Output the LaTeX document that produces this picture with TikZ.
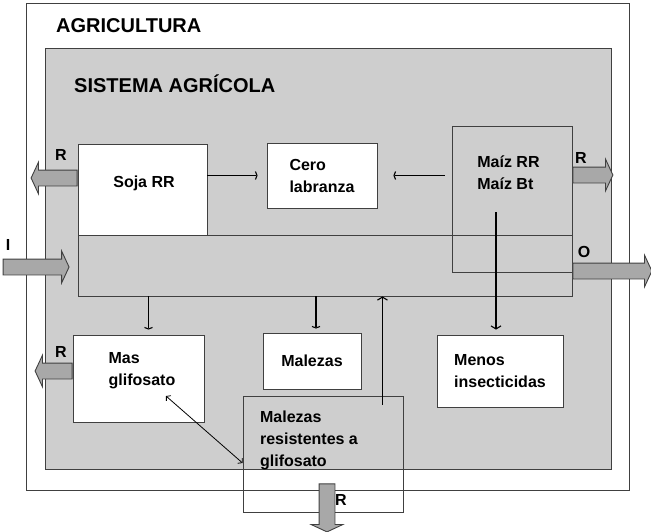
\documentclass[tikz,border=0pt]{standalone}
\usepackage{fontspec}
\setmainfont{Liberation Sans}
\usetikzlibrary{positioning}
\usetikzlibrary{calc}
\usetikzlibrary{shapes.arrows}
\usetikzlibrary{arrows.meta}
\definecolor{sysgray}{HTML}{CECECE}
\definecolor{arrowgray}{HTML}{A8A8A8}
\definecolor{edgegray}{HTML}{404040}

\begin{document}
\begin{tikzpicture}[x=1pt, y=-1pt, every node/.style={font=\fontsize{16}{22}\selectfont\bfseries},
  frame/.style={rectangle, draw=edgegray, line width=0.9pt, inner sep=0pt},
  whitebox/.style={frame, fill=white},
  title/.style={anchor=west, inner sep=0pt, font=\fontsize{20}{22}\selectfont\bfseries},
  fatarrow/.style={single arrow, draw=edgegray, fill=arrowgray, line width=0.9pt, inner sep=7.5pt, minimum width=0pt, single arrow head extend=8pt, single arrow tip angle=130},
  thin/.style={draw=black, line width=1.1pt},
  tee/.style={thin, -{Straight Barb[length=1.5pt,width=8pt]}},
  down/.style={thin, -{Straight Barb[length=3pt,width=10pt]}},
  twoway/.style={draw=black, line width=0.8pt, {Straight Barb[length=3pt,width=7pt]}-{Straight Barb[length=3pt,width=7pt]}}]

  \useasboundingbox (0,0) rectangle (651,531);

  \node[frame, minimum width=603pt, minimum height=487pt] (agri) at (327.5,246.5) {};
  \node[frame, fill=sysgray, minimum width=566pt, minimum height=421pt] (sys) at (328,258.5) {};
  \node[title] (agrititle) at (56,26) {AGRICULTURA};
  \node[title] (systitle) at (74,84) {SISTEMA AGRÍCOLA};

  \node[frame, minimum width=494pt, minimum height=61pt] (proc) at (325,265.5) {};
  \node[whitebox, minimum width=129pt, minimum height=91pt] (soja) at (142.5,189.5) {};
  \node (sojatxt) at (144,183) {Soja RR};
  \node[whitebox, minimum width=110pt, minimum height=65pt, align=left] (cero) at (322,175.5) {Cero\\labranza};
  \node[frame, minimum width=120pt, minimum height=146pt] (maiz) at (512,199) {};
  \node[align=left] (maiztxt) at (508.5,173) {Maíz RR\\Maíz Bt};

  \node[whitebox, minimum width=131pt, minimum height=87pt] (mas) at (138.5,378.5) {};
  \node[align=left] (mastxt) at (142,371) {Mas\\glifosato};
  \node[whitebox, minimum width=98pt, minimum height=56pt] (malezas) at (312,361) {Malezas};
  \node[whitebox, minimum width=126pt, minimum height=72pt, align=left] (menos) at (500,371) {Menos\\insecticidas};
  \node[frame, minimum width=160pt, minimum height=116pt] (resist) at (323,454) {};
  \node[align=left] (resisttxt) at (309,440) {Malezas\\resistentes a\\glifosato};

  % flujos de entrada y salida
  \node[fatarrow, rotate=180, minimum height=46pt, anchor=tail] (rsoja) at ($(soja.west)+(0,-11.5)$) {};
  \node[fatarrow, minimum height=66pt, anchor=tip] (input) at ($(proc.west)+(-8,1.5)$) {};
  \node[fatarrow, minimum height=79pt, anchor=tail] (output) at ($(proc.east)+(0,5.5)$) {};
  \node[fatarrow, minimum height=40pt, anchor=tail] (rmaiz) at ($(maiz.east)+(0,-24)$) {};
  \node[fatarrow, rotate=180, minimum height=37pt, anchor=tail] (rmas) at ($(mas.west)+(0,-7.5)$) {};
  \node[fatarrow, rotate=-90, minimum height=48pt, anchor=tail] (rresist) at ($(resist.south)+(4,-29)$) {};

  \node (lrsoja) at (61,155) {R};
  \node (linput) at (8,245) {I};
  \node (loutput) at (584,252) {O};
  \node (lrmaiz) at (581,158) {R};
  \node (lrmas) at (61,352) {R};
  \node (lrresist) at (341,500) {R};

  \draw[tee] (soja.east |- cero.west) -- ($(cero.west)+(-9,0)$);
  \draw[tee] ($(maiz.west |- cero.east)+(-7,0)$) -- ($(cero.east)+(16,0)$);
  \draw[tee] ($(mas.north |- proc.south)+(10,0)$) -- ($(mas.north)+(10,-5)$);
  \draw[tee] ($(malezas.north |- proc.south)+(4,0)$) -- ($(malezas.north)+(4,-4)$);
  \draw[down] ($(maiz.center)+(-16,13)$) -- ($(maiz.center |- menos.north)+(-16,-5)$);
  \draw[down] ($(resist.north east)+(-21,9)$) -- ($(resist.north east |- proc.south)+(-21,0)$);
  \draw[twoway] ($(mas.center)+(27.5,17.5)$) -- ($(resist.west)+(0,9)$);
\end{tikzpicture}
\end{document}
